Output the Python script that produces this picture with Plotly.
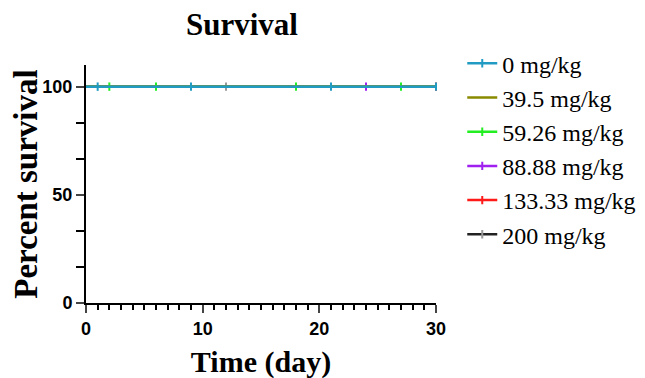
import plotly.graph_objects as go

groups = ["0 mg/kg", "39.5 mg/kg", "59.26 mg/kg", "88.88 mg/kg", "133.33 mg/kg", "200 mg/kg"]
colors = ["#229bc3", "#8a8a00", "#22ee22", "#a020f0", "#ff1a1a", "#222222"]
censor_colors = ["#229bc3", "#8a8a00", "#22ee22", "#a020f0", "#ff1a1a", "#999999"]
time_points = [0, 30]
survival = [100, 100]
censored_times = {
    "0 mg/kg": [1, 9, 21, 30],
    "39.5 mg/kg": [],
    "59.26 mg/kg": [2, 6, 18, 27],
    "88.88 mg/kg": [24],
    "133.33 mg/kg": [30],
    "200 mg/kg": [12],
}

fig = go.Figure()
for i in reversed(range(len(groups))):
    g = groups[i]
    ct = censored_times[g]
    fig.add_trace(go.Scatter(
        x=time_points, y=survival, mode="lines",
        line=dict(color=colors[i], width=2.5),
        name=g, legendgroup=g, showlegend=False, hoverinfo="skip"))
    if ct:
        fig.add_trace(go.Scatter(
            x=ct, y=[survival[0]] * len(ct), mode="markers",
            marker=dict(symbol="line-ns", size=6,
                        line=dict(color=censor_colors[i], width=2)),
            name=g, legendgroup=g, showlegend=False, hoverinfo="skip",
            cliponaxis=False))

for i, g in enumerate(groups):
    has = len(censored_times[g]) > 0
    fig.add_trace(go.Scatter(
        x=[None], y=[None], mode="lines+markers" if has else "lines",
        line=dict(color=colors[i], width=2.5),
        marker=dict(symbol="line-ns", size=6,
                    line=dict(color=censor_colors[i], width=2)),
        name=g, showlegend=True))

fig.update_layout(
    width=645, height=378,
    margin=dict(l=78, r=214, t=57, b=83),
    plot_bgcolor="white", paper_bgcolor="white",
    title=dict(text="<b>Survival</b>", x=234 / 645, xanchor="center",
               y=1 - 16 / 378, yanchor="middle",
               font=dict(family="Liberation Serif", size=31, color="black")),
    legend=dict(x=1.075, y=1.1, xanchor="left", yanchor="top",
                font=dict(family="Liberation Serif", size=24, color="black"),
                itemwidth=30, bgcolor="rgba(0,0,0,0)", maxheight=1.0),
    showlegend=True,
)
fig.update_xaxes(
    range=[0, 30], tickvals=[0, 10, 20, 30], ticks="outside", ticklen=8, tickwidth=2,
    showline=True, linecolor="black", linewidth=2, showgrid=False, zeroline=False,
    automargin=False,
    tickfont=dict(family="Liberation Sans", size=18, color="black", weight="bold"),
    minor=dict(dtick=1, ticks="outside", ticklen=5, tickwidth=2, tickcolor="black", showgrid=False),
    title=dict(text="<b>Time (day)</b>", standoff=13,
               font=dict(family="Liberation Serif", size=30, color="black")),
)
fig.update_yaxes(
    range=[0, 110], tickvals=[0, 50, 100], ticks="outside", ticklen=8, tickwidth=2,
    showline=True, linecolor="black", linewidth=2, showgrid=False, zeroline=False,
    automargin=False,
    tickfont=dict(family="Liberation Sans", size=18, color="black", weight="bold"),
    minor=dict(tick0=0, dtick=50 / 3, ticks="outside", ticklen=8, tickwidth=2, tickcolor="black", showgrid=False),
    title=dict(text="<b>Percent survival</b>", standoff=10,
               font=dict(family="Liberation Serif", size=33, color="black")),
)

fig.write_html("out.html")
